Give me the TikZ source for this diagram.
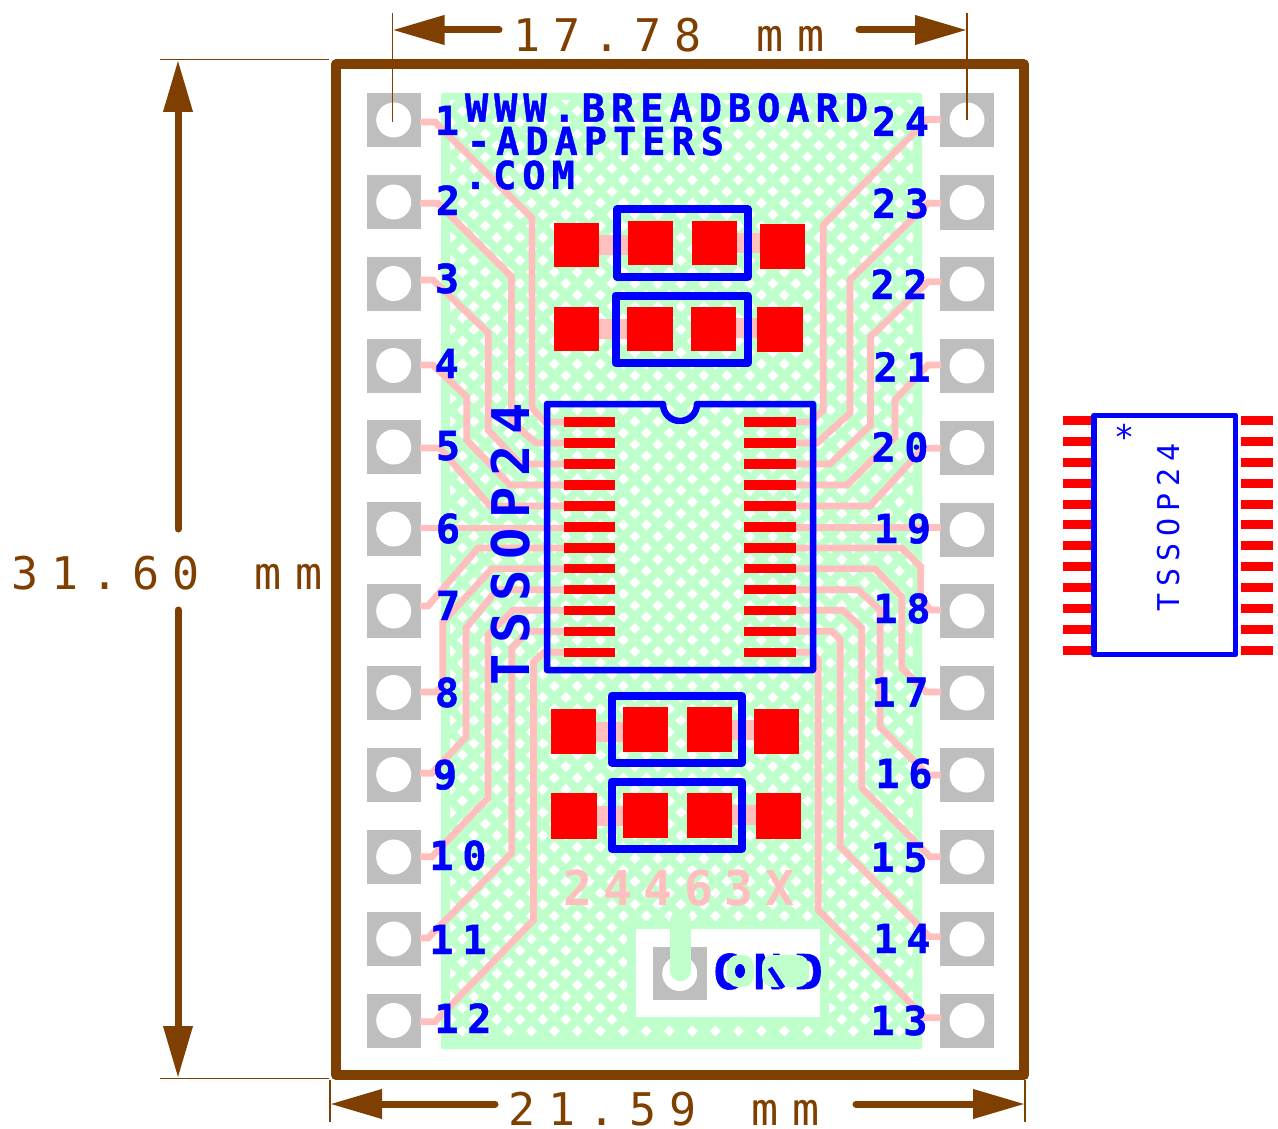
\documentclass[tikz,border=0pt]{standalone}
\usepackage{fontspec}
\usetikzlibrary{arrows.meta}
\setmainfont{DejaVu Sans}
\newfontfamily\fdim[LetterSpace=29.8]{DejaVu Sans Mono}
\newfontfamily\flab[LetterSpace=22,BoldFeatures={FakeBold=1.2}]{DejaVu Sans Mono}
\newfontfamily\fwww[LetterSpace=15.7,BoldFeatures={FakeBold=1.2}]{DejaVu Sans Mono}
\newfontfamily\fchip[LetterSpace=20]{DejaVu Sans Mono}
\newfontfamily\fcode[LetterSpace=24]{DejaVu Sans Mono}
\newfontfamily\fgnd[LetterSpace=24,BoldFeatures={FakeBold=1.2}]{DejaVu Sans Mono}
\newfontfamily\fpart[LetterSpace=23]{DejaVu Sans Mono}
\definecolor{brd}{HTML}{BFFFCC}
\definecolor{trk}{HTML}{FFBFBF}
\definecolor{gry}{HTML}{BEBEBE}
\definecolor{brn}{HTML}{7F3F00}
\definecolor{blu}{HTML}{0000FF}
\definecolor{rd}{HTML}{FF0000}
\tikzset{
  track/.style={draw=trk,line width=6.8pt,line join=miter},
  padtrk/.style={draw=trk,line width=20pt},
  frame/.style={draw=blu,line width=8pt,line join=round},
  redpad/.style={fill=rd},
  txt/.style={inner sep=0pt,outer sep=0pt,anchor=base west},
  lbl/.style={inner sep=0pt,outer sep=0pt,anchor=base,text=blu},
  dimtxt/.style={txt,text=brn},
  ext/.style={draw=brn,line width=1.5pt},
  dimar/.style={draw=brn,fill=brn,line width=7pt,line cap=round,-{Triangle[length=52pt,width=28pt]}},
}
\newcommand{\lfs}{\fontsize{40}{40}\selectfont\flab\bfseries}
\begin{document}
\begin{tikzpicture}[x=1pt,y=-1pt]
\useasboundingbox (0,0) rectangle (1278,1129);
\fill[white] (0,0) rectangle (1278,1129);
% board
\fill[brd,rounded corners=2pt] (441,93) rectangle (922,1049);
\begin{scope}
\clip (450,101) rectangle (913,1040);
\fill[white]
 \foreach \i in {-11,...,10}{ \foreach \j in {0,...,41}{
   ({692.3+23*\i-5.5},{1031-23*\j}) -- ++(5.5,-5.5) -- ++(5.5,5.5) -- ++(-5.5,5.5) -- cycle
   ({692.3+23*\i+11.5-5.5},{1031-23*\j-11.5}) -- ++(5.5,-5.5) -- ++(5.5,5.5) -- ++(-5.5,5.5) -- cycle
 }};
\end{scope}
% GND island
\fill[brd] (627,921) rectangle (829,1025);
\fill[white] (636,929) rectangle (820,1017);
\fill[gry] (652.7,946.7) rectangle (706.7,1000);
\fill[white] (679.7,973.5) circle[radius=17.5];
\draw[draw=brd,line width=20.5pt,line cap=round] (680.5,921) -- (680.5,971);
% pads
\foreach \n/\y in {1/120,2/202,3/283.5,4/365.5,5/447,6/529,7/611,8/692.5,9/774.5,10/857,11/939,12/1020.5}{
  \fill[gry] (367,\y-27) rectangle (421,\y+27);
  \fill[white] (393.7,\y) circle[radius=17.5];
}
\foreach \n/\y in {24/120,23/202.5,22/284,21/366,20/447.5,19/529.5,18/611,17/693,16/775,15/857,14/939,13/1020.5}{
  \fill[gry] (940,\y-27) rectangle (994,\y+27);
  \fill[white] (967,\y) circle[radius=17.5];
}
% tracks left
\draw[track] (420,122) -- (435,122) -- (532,218) -- (532,408) -- (545,422) -- (570,422);
\draw[track] (420,203.3) -- (438,203.3) -- (511.5,276.7) -- (511.5,422) -- (536,443) -- (570,443);
\draw[track] (420,280) -- (433,280) -- (488.3,333) -- (488.3,430) -- (520,464) -- (570,464);
\draw[track] (420,365) -- (433,365) -- (466.7,396.7) -- (466.7,440) -- (510,485) -- (570,485);
\draw[track] (420,448) -- (440,448) -- (490,506) -- (570,506);
\draw[track] (420,528) -- (570,528);
\draw[track] (420,606) -- (428,606) -- (478,548) -- (570,548);
\draw[track] (420,692) -- (436,692) -- (442.7,686) -- (442.7,622) -- (492,568.7) -- (570,568.7);
\draw[track] (420,773.3) -- (431.7,773.3) -- (466,737) -- (466,628) -- (497,589.7) -- (570,589.7);
\draw[track] (420,856.7) -- (432,856.7) -- (488,798) -- (488,635) -- (513,610.3) -- (570,610.3);
\draw[track] (420,938) -- (428,938) -- (511.7,853) -- (511.7,648) -- (528,631.3) -- (570,631.3);
\draw[track] (420,1021.7) -- (435,1021.7) -- (533.5,920) -- (533.5,662) -- (544,652.3) -- (570,652.3);
% tracks right
\draw[track] (790,422) -- (811,422) -- (823.3,410) -- (823.3,225) -- (927,119.5) -- (941,119.5);
\draw[track] (790,443) -- (817,443) -- (850,413) -- (850,280) -- (913,218) -- (928,203.3) -- (941,203.3);
\draw[track] (790,464) -- (830,464) -- (870.5,425) -- (870.5,336.7) -- (928,281.7) -- (941,281.7);
\draw[track] (790,485) -- (847,485) -- (895,437) -- (895,400) -- (928,365) -- (941,365);
\draw[track] (790,506) -- (870,506) -- (923,448.3) -- (941,448.3);
\draw[track] (790,527.3) -- (941,527.3);
\draw[track] (790,548) -- (901.7,548) -- (920.7,566.7) -- (920.7,597) -- (930,610) -- (941,610);
\draw[track] (790,568.7) -- (875,568.7) -- (901.7,596.7) -- (901.7,668) -- (926,692) -- (941,692);
\draw[track] (790,589.7) -- (858,589.7) -- (880,610) -- (880,727) -- (928,775) -- (941,775);
\draw[track] (790,610.3) -- (843,610.3) -- (861.7,628) -- (861.7,788) -- (930,856.7) -- (941,856.7);
\draw[track] (790,631.3) -- (831.7,631.3) -- (840.3,640) -- (840.3,846.7) -- (923,930) -- (929,936.7) -- (941,936.7);
\draw[track] (790,652.3) -- (812,652.3) -- (818.3,660) -- (818.3,910) -- (925,1017.7) -- (941,1017.7);
% pad links
\draw[padtrk] (590,245) -- (635,245);
\draw[padtrk] (730,243) -- (765,243);
\draw[padtrk] (590,329) -- (635,329);
\draw[padtrk] (730,328) -- (765,328);
\draw[padtrk] (590,731.7) -- (630,731.7);
\draw[padtrk] (725,729.5) -- (760,729.5);
\draw[padtrk] (590,816) -- (630,816);
\draw[padtrk] (725,815) -- (760,815);
% red pads
\fill[redpad] (554,222.7) rectangle (599,267.3);
\fill[redpad] (628.3,221) rectangle (673.3,265.3);
\fill[redpad] (691.7,221) rectangle (736.7,265.3);
\fill[redpad] (760,224) rectangle (804.7,268.7);
\fill[redpad] (554,306.7) rectangle (599,351);
\fill[redpad] (627.3,306.7) rectangle (672.7,351);
\fill[redpad] (690.7,306.7) rectangle (735.7,351);
\fill[redpad] (757.3,307.3) rectangle (802.7,352.3);
\fill[redpad] (550.7,709) rectangle (595.7,754);
\fill[redpad] (623.3,706.7) rectangle (668.3,751.7);
\fill[redpad] (686.7,706.7) rectangle (731.7,751.7);
\fill[redpad] (754,709) rectangle (799.3,754);
\fill[redpad] (551.3,793.3) rectangle (597,838.7);
\fill[redpad] (623.3,792.7) rectangle (668.3,837.7);
\fill[redpad] (686.7,792.7) rectangle (731.7,837.7);
\fill[redpad] (756.3,793.3) rectangle (801.3,838.7);
% frames
\draw[frame] (617,209.5) rectangle (748,276.5);
\draw[frame] (615.5,295.5) rectangle (747.5,363);
\draw[frame] (611.5,696) rectangle (742,762.5);
\draw[frame] (611.5,781.5) rectangle (742,848.5);
% IC leads
\foreach \y in {422,443,464,485,506,527,548,568.7,589.7,610.3,631.3,652.3}{
  \fill[rd] (564,\y-4.7) rectangle (614.5,\y+4.7);
  \fill[rd] (744,\y-4.7) rectangle (795.7,\y+4.7);
}
\draw[draw=blu,line width=6.5pt,line join=round] (547,404) -- (663,404) arc(180:360:17pt) -- (813,404) -- (813,670) -- (547,670) -- cycle;
% labels
\foreach \t/\x/\y in {1/447/135,2/448/215,3/447/293,4/446.7/378,5/448/460,6/448/543,7/448/620,8/447/707,9/445/789,10/458/870,11/458/954,12/463/1033,
 24/900.5/136,23/900.5/218,22/899/299,21/902/381.7,20/900/461.7,19/902.5/543,18/902/623,17/900/706.7,16/904/788,15/899/871.7,14/902/953,13/899/1035}{
  \node[lbl] (lab\t) at (\x,\y) {\lfs\t};
}
\node[txt,text=blu] (www1) at (465,121.7) {\fontsize{38.5}{38.5}\selectfont\fwww\bfseries WWW.BREADBOARD};
\node[txt,text=blu] (www2) at (467,155) {\fontsize{38.5}{38.5}\selectfont\fwww\bfseries -ADAPTERS};
\node[txt,text=blu] (www3) at (464,189) {\fontsize{38.5}{38.5}\selectfont\fwww\bfseries .COM};
\node[txt,text=blu,rotate=90] (chip) at (529,685) {\fontsize{52}{52}\selectfont\fchip\bfseries TSSOP24};
\node[txt,text=trk] (code) at (563,905) {\fontsize{48}{48}\selectfont\fcode\bfseries 24463X};
% GND
\node[txt,text=blu] (gnd) at (713,989) {\fontsize{48}{48}\selectfont\fgnd\bfseries GND};
\fill[brd,rounded corners=11pt] (727,955) rectangle (754,987);
\fill[brd,rounded corners=11pt] (762,955) rectangle (809,987);
\fill[blu] (740,971) ellipse[x radius=5,y radius=7];
\draw[blu,line width=5pt] (770,968) -- (783,988);
% dimensions
\coordinate (t1) at (499,30);\coordinate (t2) at (392.5,30);
\coordinate (t3) at (859,30);\coordinate (t4) at (967,30);
\coordinate (b1) at (495,1104);\coordinate (b2) at (330,1104);
\coordinate (b3) at (856,1104);\coordinate (b4) at (1025,1104);
\coordinate (l1) at (178,529);\coordinate (l2) at (178,60);
\coordinate (l3) at (178,610);\coordinate (l4) at (178,1078);
\draw[dimar] (t1) -- (t2);\draw[dimar] (t3) -- (t4);
\draw[dimar] (b1) -- (b2);\draw[dimar] (b3) -- (b4);
\draw[dimar] (l1) -- (l2);\draw[dimar] (l3) -- (l4);
\draw[ext] (392.5,13) -- (392.5,122);
\draw[ext] (967,13) -- (967,120);
\draw[ext] (160,59.5) -- (329,59.5);
\draw[ext] (160,1078.5) -- (329,1078.5);
\draw[ext] (330,1080) -- (330,1122);
\draw[ext] (1025,1080) -- (1025,1122);
\draw[draw=brn,line width=10pt,line join=round] (336,64.5) rectangle (1024,1075);
\node[dimtxt] (d1) at (513,52) {\fontsize{45}{45}\selectfont\fdim 17.78 \kern14pt mm};
\node[dimtxt] (d2) at (11,589) {\fontsize{45}{45}\selectfont\fdim 31.60 \kern14pt mm};
\node[dimtxt] (d3) at (508,1125) {\fontsize{45}{45}\selectfont\fdim 21.59 \kern14pt mm};
% part symbol
\foreach \y in {420,441,462,483,504,524.7,545.7,566.7,587.7,608.3,629.3,650.3}{
  \fill[rd] (1062.7,\y-4.5) rectangle (1092,\y+4.5);
  \fill[rd] (1240.7,\y-4.5) rectangle (1272.7,\y+4.5);
}
\draw[draw=blu,line width=5.5pt,line join=round] (1094,415.5) rectangle (1235.5,654.5);
\node[inner sep=0pt,text=blu] (star) at (1124,437) {\fontsize{34}{34}\selectfont\fpart *};
\node[txt,text=blu,rotate=90] (part) at (1179,611) {\fontsize{30}{30}\selectfont\fpart TSSOP24};
\end{tikzpicture}
\end{document}
